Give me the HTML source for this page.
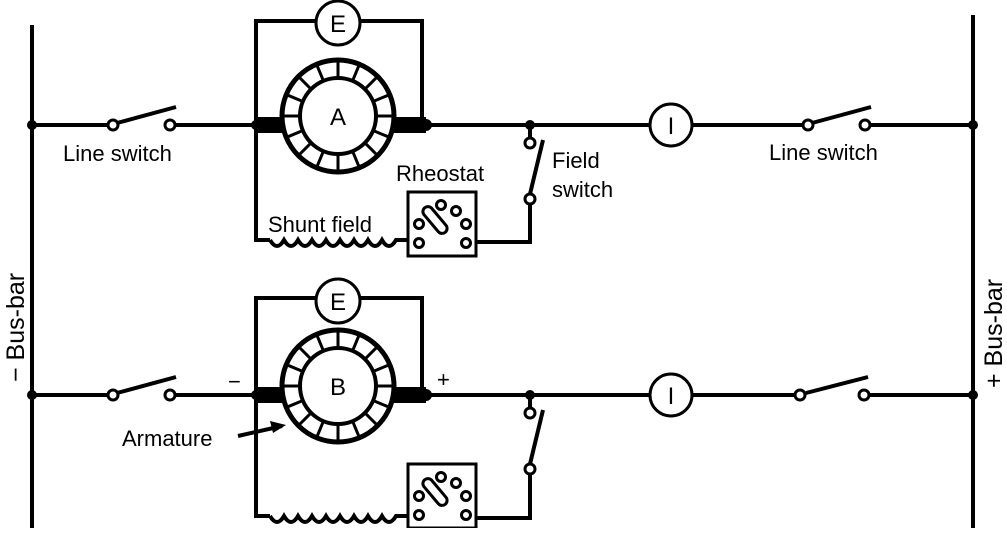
<!DOCTYPE html>
<html><head><meta charset="utf-8"><style>
html,body{margin:0;padding:0;background:#fff;}
svg text{font-family:"Liberation Sans",sans-serif;fill:#000;}
</style></head><body>
<svg width="1007" height="528" viewBox="0 0 1007 528" xmlns="http://www.w3.org/2000/svg">
<defs>
<g id="arm">
  <circle cx="0" cy="0" r="56" fill="#fff" stroke="#000" stroke-width="5"/>
  <circle cx="0" cy="0" r="38" fill="#fff" stroke="#000" stroke-width="4"/>
  <g stroke="#000" stroke-width="3">
    <line x1="0" y1="-38" x2="0" y2="-56"/>
    <line x1="0" y1="-38" x2="0" y2="-56" transform="rotate(22.5)"/>
    <line x1="0" y1="-38" x2="0" y2="-56" transform="rotate(45)"/>
    <line x1="0" y1="-38" x2="0" y2="-56" transform="rotate(67.5)"/>
    <line x1="0" y1="-38" x2="0" y2="-56" transform="rotate(90)"/>
    <line x1="0" y1="-38" x2="0" y2="-56" transform="rotate(112.5)"/>
    <line x1="0" y1="-38" x2="0" y2="-56" transform="rotate(135)"/>
    <line x1="0" y1="-38" x2="0" y2="-56" transform="rotate(157.5)"/>
    <line x1="0" y1="-38" x2="0" y2="-56" transform="rotate(180)"/>
    <line x1="0" y1="-38" x2="0" y2="-56" transform="rotate(202.5)"/>
    <line x1="0" y1="-38" x2="0" y2="-56" transform="rotate(225)"/>
    <line x1="0" y1="-38" x2="0" y2="-56" transform="rotate(247.5)"/>
    <line x1="0" y1="-38" x2="0" y2="-56" transform="rotate(270)"/>
    <line x1="0" y1="-38" x2="0" y2="-56" transform="rotate(292.5)"/>
    <line x1="0" y1="-38" x2="0" y2="-56" transform="rotate(315)"/>
    <line x1="0" y1="-38" x2="0" y2="-56" transform="rotate(337.5)"/>
  </g>
</g>
<g id="rheo" fill="#fff" stroke="#000">
  <rect x="0" y="0" width="68" height="64" stroke-width="3"/>
  <circle cx="11" cy="32" r="4.5" stroke-width="3"/>
  <circle cx="11" cy="51" r="4.5" stroke-width="3"/>
  <circle cx="58" cy="32" r="4.5" stroke-width="3"/>
  <circle cx="58" cy="51" r="4.5" stroke-width="3"/>
  <circle cx="33" cy="13" r="4.5" stroke-width="3"/>
  <circle cx="48" cy="19" r="4.5" stroke-width="3"/>
  <rect x="-5" y="-16" width="10" height="32" rx="5" transform="translate(27,28) rotate(-40)" stroke-width="3"/>
</g>
</defs>
<g stroke="#000" stroke-width="4" fill="none">
  <line x1="32" y1="25" x2="32" y2="528"/>
  <line x1="973" y1="15" x2="973" y2="528"/>
  <line x1="32" y1="125" x2="109" y2="125"/>
  <line x1="174" y1="125" x2="256" y2="125"/>
  <line x1="425" y1="125" x2="649" y2="125"/>
  <line x1="693" y1="125" x2="804" y2="125"/>
  <line x1="869" y1="125" x2="973" y2="125"/>
  <line x1="117" y1="123" x2="176" y2="107"/>
  <line x1="812" y1="123" x2="871" y2="107"/>
  <line x1="32" y1="395" x2="109" y2="395"/>
  <line x1="174" y1="395" x2="256" y2="395"/>
  <line x1="425" y1="395" x2="649" y2="395"/>
  <line x1="693" y1="395" x2="796" y2="395"/>
  <line x1="868" y1="395" x2="973" y2="395"/>
  <line x1="117" y1="393" x2="176" y2="377"/>
  <line x1="806" y1="393" x2="868" y2="377"/>
  <path d="M256 125 V21 H316 M360 21 H422 V125"/>
  <path d="M256 125 V240 H270"/>
  <path d="M270 240 q7 12 14 0 q7 12 14 0 q7 12 14 0 q7 12 14 0 q7 12 14 0 q7 12 14 0 q7 12 14 0 q7 12 14 0 q7 12 14 0 H408"/>
  <path d="M476 242 H530 V204"/>
  <line x1="530" y1="125" x2="530" y2="138"/>
  <line x1="530" y1="194" x2="543" y2="140"/>
  <path d="M256 395 V298 H316 M360 298 H422 V395"/>
  <path d="M256 395 V516 H270"/>
  <path d="M270 516 q7 12 14 0 q7 12 14 0 q7 12 14 0 q7 12 14 0 q7 12 14 0 q7 12 14 0 q7 12 14 0 q7 12 14 0 q7 12 14 0 H408"/>
  <path d="M476 518 H530 V474"/>
  <line x1="530" y1="395" x2="530" y2="408"/>
  <line x1="530" y1="464" x2="543" y2="410"/>
  <line x1="238" y1="436" x2="282" y2="426"/>
</g>
<path d="M286 425 L270 421 L273 433 Z" fill="#000"/>
<rect x="254" y="117" width="32" height="16" fill="#000"/>
<rect x="390" y="117" width="36" height="16" fill="#000"/>
<rect x="254" y="387" width="32" height="16" fill="#000"/>
<rect x="390" y="387" width="36" height="16" fill="#000"/>
<use href="#arm" x="338" y="116"/>
<use href="#arm" x="338" y="386"/>
<use href="#rheo" x="408" y="192"/>
<use href="#rheo" x="408" y="464"/>
<g fill="#000">
  <circle cx="32" cy="125" r="5"/><circle cx="973" cy="125" r="5"/>
  <circle cx="32" cy="395" r="5"/><circle cx="973" cy="395" r="5"/>
  <circle cx="530" cy="125" r="5"/><circle cx="530" cy="395" r="5"/>
  <circle cx="426" cy="125" r="6"/><circle cx="426" cy="395" r="6"/>
  <circle cx="256" cy="125" r="5"/><circle cx="256" cy="395" r="5"/>
</g>
<g fill="#fff" stroke="#000" stroke-width="3">
  <circle cx="113" cy="125" r="5"/><circle cx="170" cy="125" r="5"/>
  <circle cx="808" cy="125" r="5"/><circle cx="865" cy="125" r="5"/>
  <circle cx="113" cy="395" r="5"/><circle cx="170" cy="395" r="5"/>
  <circle cx="800" cy="395" r="5"/><circle cx="864" cy="395" r="5"/>
  <circle cx="530" cy="143" r="5"/><circle cx="530" cy="199" r="5"/>
  <circle cx="530" cy="413" r="5"/><circle cx="530" cy="469" r="5"/>
  <circle cx="338" cy="23" r="22"/><circle cx="338" cy="301" r="22"/>
  <circle cx="671" cy="125" r="21"/><circle cx="671" cy="395" r="21"/>
</g>
<g font-size="24" text-anchor="middle">
  <text x="338" y="32">E</text><text x="338" y="310">E</text>
  <text x="338" y="125">A</text><text x="338" y="395">B</text>
  <text x="671" y="134" font-family="Liberation Serif">I</text>
  <text x="671" y="404" font-family="Liberation Serif">I</text>
</g>
<g font-size="22">
  <text x="63" y="161">Line switch</text>
  <text x="769" y="160">Line switch</text>
  <text x="396" y="181">Rheostat</text>
  <text x="268" y="232">Shunt field</text>
  <text x="552" y="168">Field</text>
  <text x="552" y="197">switch</text>
  <text x="122" y="446">Armature</text>
  <text x="228" y="389">−</text>
  <text x="437" y="387">+</text>
  <text font-size="25" transform="translate(24,382) rotate(-90)">− Bus-bar</text>
  <text font-size="25" transform="translate(1002,388) rotate(-90)">+ Bus-bar</text>
</g>
</svg>
</body></html>
